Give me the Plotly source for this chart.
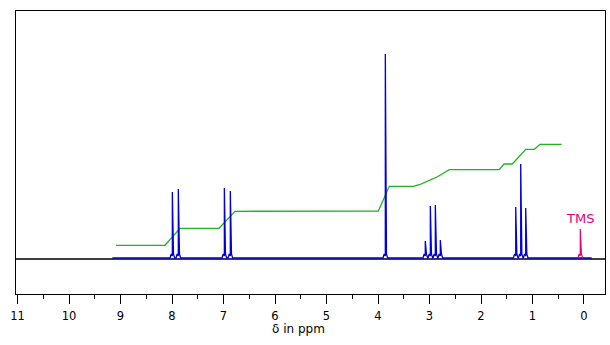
import plotly.graph_objects as go

# ---- data (ppm, height in plot units) ----
peak_ppm = [7.994, 7.878, 6.984, 6.868, 3.858, 3.082, 2.984, 2.887, 2.790, 1.326, 1.229, 1.132, 0.072]
peak_height = [67, 70, 71, 68, 205, 18, 53, 54, 19, 52, 95, 51, 30]
peak_is_tms = [False] * 12 + [True]

spectrum_start = 9.16
spectrum_end = -0.15

integral_ppm = [9.087, 8.136, 7.845, 7.087, 6.777, 3.994, 3.781, 3.315, 3.184, 3.068, 2.971,
                2.854, 2.757, 2.616, 1.645, 1.553, 1.392, 1.132, 0.965, 0.854, 0.433]
integral_val = [13.7, 13.7, 30.7, 30.7, 47.7, 48, 72.7, 72.7, 74.5, 76.7, 79.3,
                82, 85, 89.3, 89.3, 95, 95, 109.7, 109.7, 114.7, 114.7]

tick_vals = list(range(0, 12))
tick_text = [str(v) for v in tick_vals]

BLUE = "#0000dd"
GREEN = "#1fb51f"
MAGENTA = "#e6007e"
BASE = 1.0
BUMP = 4.0
HW = 0.045
BW = 0.022


def peak_path(p, h):
    return [p + HW, p + BW, p, p, p - BW, p - HW], [BASE, BASE + BUMP, BASE + BUMP / 2, h, BASE + BUMP, BASE]


xs, ys = [spectrum_start], [BASE]
tms_x, tms_y = [], []
for p, h, t in zip(peak_ppm, peak_height, peak_is_tms):
    px, py = peak_path(p, h)
    if t:
        tms_x, tms_y = px, py
    else:
        xs += px
        ys += py
xs.append(spectrum_end)
ys.append(BASE)

fig = go.Figure()
fig.add_trace(go.Scatter(x=integral_ppm, y=integral_val, mode="lines",
                         line=dict(color=GREEN, width=1.3), hoverinfo="skip"))
fig.add_trace(go.Scatter(x=xs, y=ys, mode="lines",
                         line=dict(color=BLUE, width=1.3), hoverinfo="skip"))
fig.add_trace(go.Scatter(x=tms_x, y=tms_y, mode="lines",
                         line=dict(color=MAGENTA, width=1.2), hoverinfo="skip"))

fig.add_shape(type="line", xref="paper", yref="y", x0=0, x1=1, y0=0, y1=0,
              line=dict(color="black", width=1.3), layer="below")

fig.add_annotation(x=peak_ppm[-1], y=41, text="TMS", showarrow=False,
                   font=dict(family="DejaVu Sans", size=13, color=MAGENTA),
                   xanchor="center", yanchor="middle")
fig.add_annotation(x=0.480, xref="paper", y=-0.124, yref="paper", text="δ in ppm",
                   showarrow=False, font=dict(family="DejaVu Sans", size=12, color="black"),
                   xanchor="center", yanchor="middle")

fig.update_layout(
    width=610, height=345,
    margin=dict(l=16, r=5, t=11, b=51, autoexpand=False),
    paper_bgcolor="white", plot_bgcolor="white",
    showlegend=False,
    font=dict(family="DejaVu Sans", size=12, color="black"),
    xaxis=dict(range=[11.03, -0.408], showgrid=False, zeroline=False, automargin=False,
               showline=True, mirror=True, linecolor="black", linewidth=1.3,
               tickmode="array", tickvals=tick_vals, ticktext=tick_text,
               ticks="outside", ticklen=9, tickwidth=1.3, tickcolor="black",
               ticklabelstandoff=2,
               minor=dict(tickmode="array", tickvals=[v + 0.5 for v in range(0, 11)],
                          ticks="outside", ticklen=4, tickwidth=1.3, tickcolor="black"),
               tickfont=dict(family="DejaVu Sans", size=11.5, color="black")),
    yaxis=dict(range=[-35, 248], showgrid=False, zeroline=False, automargin=False,
               showline=True, mirror=True, linecolor="black", linewidth=1.3,
               showticklabels=False, ticks=""),
)

fig.write_html("out.html", config={"responsive": False, "displayModeBar": False},
               post_script="document.body.style.margin='0';document.body.style.overflow='hidden';")
